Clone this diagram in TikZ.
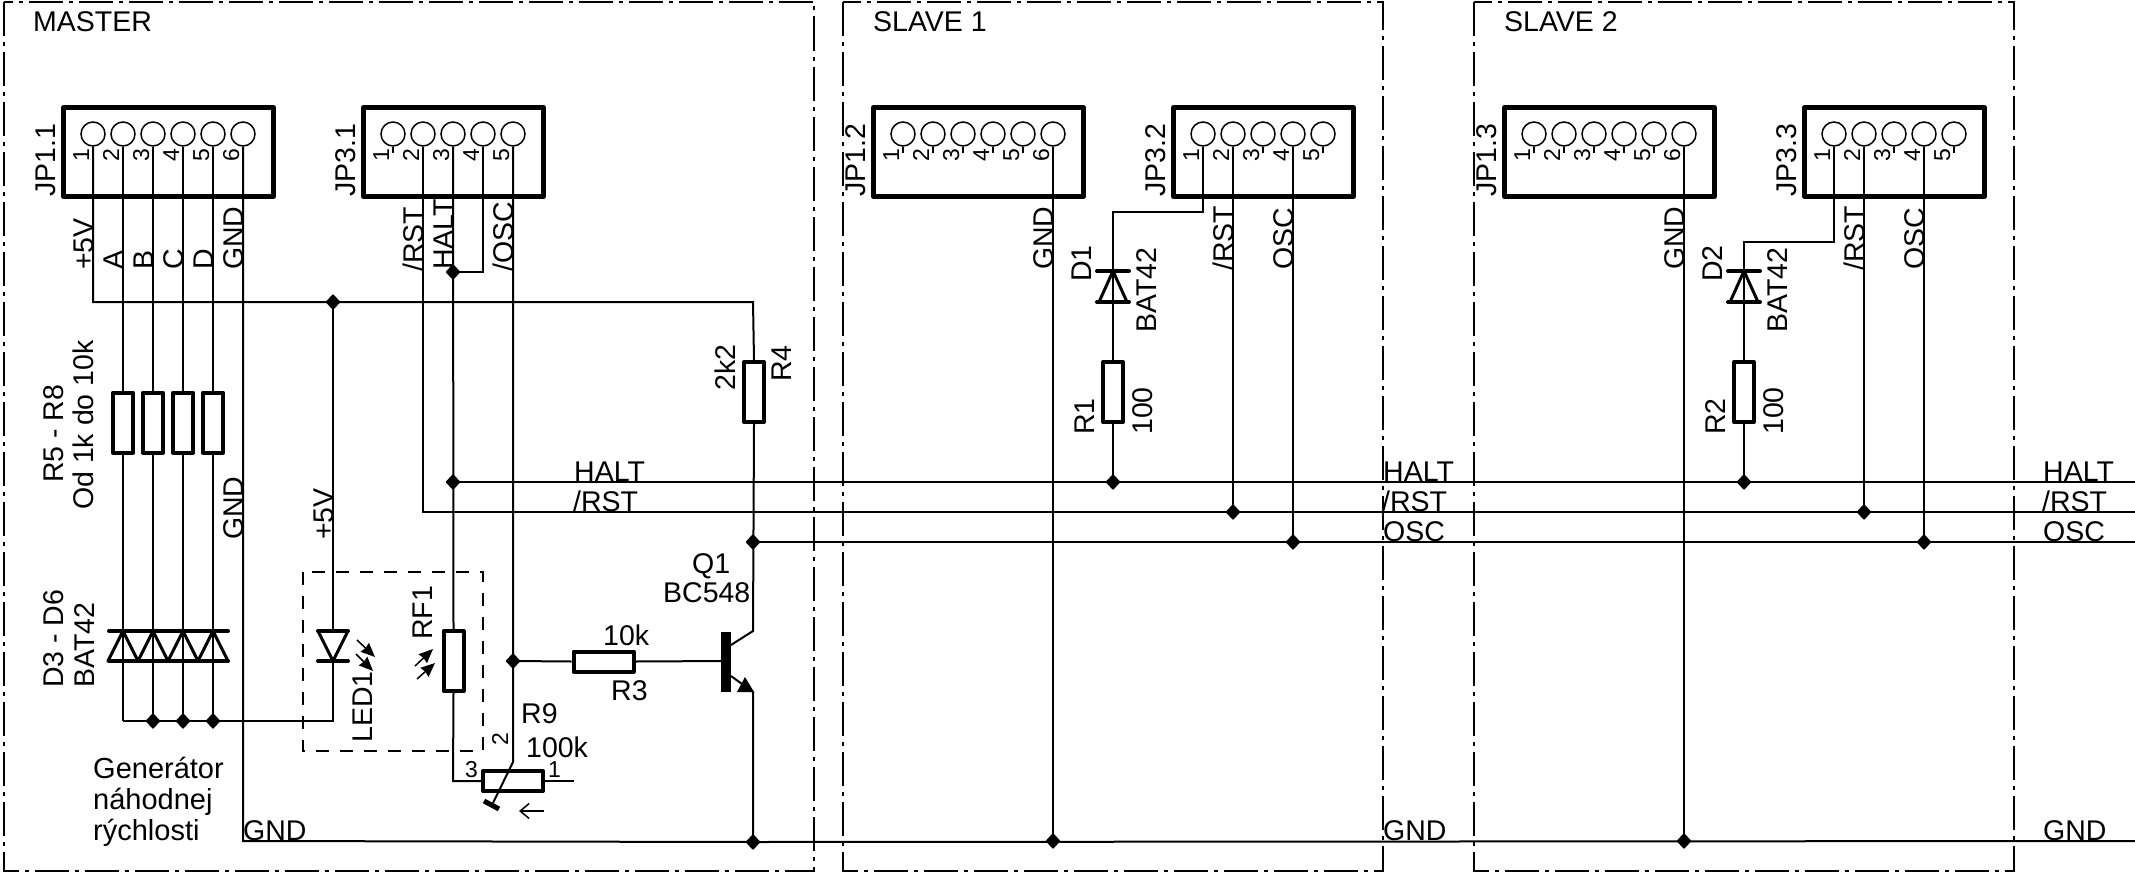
\documentclass[tikz,border=0pt]{standalone}
\usepackage{fontspec}
\setmainfont{Liberation Sans}
\usetikzlibrary{shapes.geometric,arrows.meta}
\tikzset{
  wire/.style={line width=2pt},
  frameline/.style={line width=2pt,dash pattern=on 34pt off 6pt on 4pt off 6pt},
  dashbox/.style={line width=2pt,dash pattern=on 13pt off 11pt},
  jdot/.style={diamond,fill=black,draw=black,line width=2pt,line join=round,inner sep=0pt,minimum width=13pt,minimum height=14pt},
  hbox/.style={draw,line width=5pt,inner sep=0pt,line join=round},
  pinc/.style={circle,draw,line width=1.5pt,inner sep=0pt,minimum size=24pt},
  resv/.style={draw,line width=4pt,inner sep=0pt,line join=round,minimum width=20pt,minimum height=60pt},
  resh/.style={draw,line width=4pt,inner sep=0pt,line join=round,minimum width=60pt,minimum height=20pt},
  lbl/.style={font=\fontsize{28.5}{30}\selectfont,inner sep=0pt,anchor=base west},
  hlbl/.style={lbl,xshift=-1pt},
  rlbl/.style={lbl,rotate=90},
  plbl/.style={font=\fontsize{23}{23}\selectfont,inner sep=0pt,anchor=base west},
  rplbl/.style={plbl,rotate=90},
  bar/.style={line width=4pt,line cap=round},
  tri/.style={line width=3pt,line join=round},
  larrow/.style={line width=1.5pt,-{Stealth[length=14pt,width=12pt,inset=1pt]}},
}
% header: name, left, right, first pin x, pin count
\newcommand{\hdr}[5]{%
  \pgfmathsetmacro{\hl}{#2}\pgfmathsetmacro{\hr}{#3}\pgfmathsetmacro{\hw}{\hr-\hl-1}
  \node[hbox,minimum width=\hw pt,minimum height=89pt] (#1) at ({(\hl+\hr)/2},152) {};
  \foreach \i in {1,...,#5}{
    \pgfmathsetmacro{\px}{#4+30*(\i-1)}
    \node[pinc] (#1c\i) at (\px,134) {};
    \draw[line width=1.5pt] (#1c\i.south) -- ++(0,6);
    \node[rplbl] (#1n\i) at (\px-4,162) {\i};
  }%
}
\newcommand{\slave}[7]{%
  % #1 slave number, #2 offset, #3 jog y, #4 diode name, #5 resistor name, #6 frame offset, #7 connector suffix
  \coordinate (fa#1) at (843+#6,2);
  \coordinate (fb#1) at (1383+#6,871);
  \draw[frameline] (fa#1) rectangle (fb#1);
  \node[hlbl] (title#1) at (874+#2,32) {SLAVE #1};
  \hdr{JPa#1}{873+#2}{1084+#2}{903+#2}{6}
  \hdr{JPb#1}{1173+#2}{1354+#2}{1203+#2}{5}
  \node[rlbl] (JPal#1) at (865+#2,197) {JP1.#7};
  \node[rlbl] (JPbl#1) at (1165+#2,197) {JP3.#7};
  \coordinate (jog#1a) at (1203+#2,#3);
  \coordinate (jog#1b) at (1113+#2,#3);
  \node[resv] (#5) at (1113+#2,392) {};
  \node[jdot] (jh#1) at (1113+#2,482) {};
  \node[jdot] (jr#1) at (1233+#2,512) {};
  \node[jdot] (jo#1) at (1293+#2,542) {};
  \node[jdot] (jg#1) at (1053+#2,841) {};
  \draw[wire] (JPb#1c1.south) -- (jog#1a) -- (jog#1b) -- (#5.north);
  \draw[wire] (#5.south) -- (jh#1.center);
  \draw[wire] (JPa#1c6.south) -- (jg#1.center);
  \draw[wire] (JPb#1c2.south) -- (jr#1.center);
  \draw[wire] (JPb#1c4.south) -- (jo#1.center);
  \draw[bar] (1097+#2,271) -- (1129+#2,271);
  \draw[bar] (1097+#2,302) -- (1129+#2,302);
  \draw[tri] (1113+#2,271) -- (1099+#2,302) -- (1127+#2,302) -- cycle;
  \node[rlbl] (gl#1) at (1053+#2,270) {GND};
  \node[rlbl] (rl#1) at (1233+#2,271) {/RST};
  \node[rlbl] (ol#1) at (1293+#2,270) {OSC};
  \node[rlbl] (#4l) at (1091+#2,282) {#4};
  \node[rlbl] (#4v) at (1156+#2,333) {BAT42};
  \node[rlbl] (#5l) at (1094.5+#2,435) {#5};
  \node[rlbl] (#5v) at (1152.5+#2,435) {100};
}
\begin{document}
\begin{tikzpicture}[x=1pt,y=-1pt]
\useasboundingbox (0,0) rectangle (2135,875);
% frames
\coordinate (fm1) at (3.5,2); \coordinate (fm2) at (814,871);
\draw[frameline] (fm1) rectangle (fm2);
\node[hlbl] (tm) at (34,32) {MASTER};
% master headers
\hdr{JPm1}{63}{274}{93}{6}
\hdr{JPm3}{363}{544}{393}{5}
\node[rlbl] (JPm1l) at (55,197) {JP1.1};
\node[rlbl] (JPm3l) at (355,197) {JP3.1};
% bus end points
\coordinate (endH) at (2135,482);
\coordinate (endR) at (2135,512);
\coordinate (endO) at (2135,542);
\coordinate (endG) at (2135,841);
% junctions
\node[jdot] (j5v) at (333,302) {};
\node[jdot] (jh1m) at (453,272) {};
\node[jdot] (jh2m) at (453,482) {};
\node[jdot] (josc) at (753,542) {};
\node[jdot] (jgnd) at (753,842) {};
\node[jdot] (jb) at (513,661) {};
\node[jdot] (jd2) at (153,721) {};
\node[jdot] (jd3) at (183,721) {};
\node[jdot] (jd4) at (213,721) {};
% resistors
\foreach \n/\x in {R5/123,R6/153,R7/183,R8/213}{
  \node[resv] (\n) at (\x,422.5) {};
}
\node[resv] (R4) at (754,392) {};
\node[resv] (RF) at (453.5,661) {};
\node[resh] (R3) at (603.5,661.5) {};
\node[resh] (R9) at (513,781) {};
% master wires
\coordinate (v5c) at (93,302);
\coordinate (v5r) at (753,302);
\draw[wire] (JPm1c1.south) -- (v5c) -- (v5r) -- (R4.north);
\draw[wire] (j5v.center) -- (333,631);
\draw[wire] (333,661) -- (333,721) -- (jd4.center) -- (jd3.center) -- (jd2.center) -- (123,721);
\foreach \n/\p/\x in {R5/2/123,R6/3/153,R7/4/183,R8/5/213}{
  \draw[wire] (JPm1c\p.south) -- (\n.north);
  \draw[wire] (\n.south) -- (\x,721);
}
\draw[wire] (JPm1c6.south) -- (243,841) -- (jgnd.center) -- (endG);
\draw[wire] (JPm3c2.south) -- (423,512) -- (endR);
\draw[wire] (JPm3c3.south) -- (RF.north);
\draw[wire] (JPm3c4.south) -- (483,272) -- (jh1m.center);
\draw[wire] (JPm3c5.south) -- (513,762) -- (493,803);
\draw[wire] (jh2m.center) -- (endH);
\draw[wire] (josc.center) -- (endO);
\draw[wire] (R4.south) -- (753,631) -- (731,645);
\draw[wire] (731,676) -- (753,692) -- (jgnd.center);
\fill (737,692) -- (754,692) -- (745,677) -- cycle;
\draw[wire] (RF.south) -- (453,781) -- (R9.west);
\draw[wire] (R9.east) -- (574,781);
\draw[wire] (jb.center) -- (R3.west);
\draw[wire] (R3.east) -- (726,661);
\draw[line width=10pt] (726,632) -- (726,692);
\draw[bar,line cap=butt,line width=5pt] (484,801) -- (499,809);
\draw[line width=1.5pt,-{Straight Barb[length=9pt,width=15pt]}] (544,811) -- (519,811);
% D3-D6
\draw[bar] (109,631) -- (228,631);
\draw[bar] (109,661) -- (228,661);
\foreach \x in {123,153,183,213}{
  \draw[tri] (\x,631) -- (\x-15,661) -- (\x+15,661) -- cycle;
}
% LED
\draw[bar] (318,631) -- (348,631);
\draw[bar] (318,661) -- (348,661);
\draw[tri] (318,631) -- (333,661) -- (348,631) -- cycle;
\draw[larrow] (357,640) -- (375,657);
\draw[larrow] (356,654) -- (373,671);
\draw[larrow] (415,666) -- (433,649);
\draw[larrow] (417,679) -- (435,663);
% dashed group
\coordinate (dbA) at (303,572); \coordinate (dbB) at (483,751);
\draw[dashbox] (dbA) rectangle (dbB);
% master labels
\node[rlbl] (l1) at (93,270) {+5V};
\node[rlbl] (l2) at (123,270) {A};
\node[rlbl] (l3) at (153,270) {B};
\node[rlbl] (l4) at (183,270) {C};
\node[rlbl] (l5) at (213,270) {D};
\node[rlbl] (l6) at (243,270) {GND};
\node[rlbl] (l7) at (423,272) {/RST};
\node[rlbl] (l8) at (453,270) {HALT};
\node[rlbl] (l9) at (513,272) {/OSC};
\node[rlbl] (l10) at (333,540) {+5V};
\node[rlbl] (l11) at (243,540) {GND};
\node[rlbl] (l12) at (63,483) {R5 - R8};
\node[rlbl] (l13) at (93,510) {Od 1k do 10k};
\node[rlbl] (l14) at (63,688) {D3 - D6};
\node[rlbl] (l15) at (94,688) {BAT42};
\node[rlbl] (l16) at (735,391) {2k2};
\node[rlbl] (l17) at (791,382) {R4};
\node[rlbl] (l18) at (432,640) {RF1};
\node[rlbl] (l19) at (372,743) {LED1};
\node[hlbl] (l20) at (575,481) {HALT};
\node[hlbl] (l21) at (574,511) {/RST};
\node[hlbl] (l22) at (244,840) {GND};
\node[hlbl] (l23) at (604,645) {10k};
\node[hlbl] (l24) at (612,700) {R3};
\node[hlbl] (l25) at (693,573) {Q1};
\node[hlbl] (l26) at (664,602) {BC548};
\node[hlbl] (l27) at (522,723) {R9};
\node[hlbl] (l28) at (527,757) {100k};
\node[plbl] (l29) at (465,777) {3};
\node[plbl] (l30) at (548,777) {1};
\node[rplbl] (l31) at (508,746) {2};
\node[hlbl,anchor=north west,align=left,font=\fontsize{29}{31}\selectfont] (gen) at (94,757) {Generátor\\náhodnej\\rýchlosti};
% bus labels
\node[hlbl] (b1) at (1384,481) {HALT};
\node[hlbl] (b2) at (1383,511) {/RST};
\node[hlbl] (b3) at (1384,541) {OSC};
\node[hlbl] (b4) at (1384,840) {GND};
\node[hlbl] (b5) at (2044,481) {HALT};
\node[hlbl] (b6) at (2043,511) {/RST};
\node[hlbl] (b7) at (2044,541) {OSC};
\node[hlbl] (b8) at (2044,840) {GND};
% slaves
\slave{1}{0}{211.5}{D1}{R1}{0}{2}
\slave{2}{631}{242}{D2}{R2}{630.5}{3}
\end{tikzpicture}
\end{document}
